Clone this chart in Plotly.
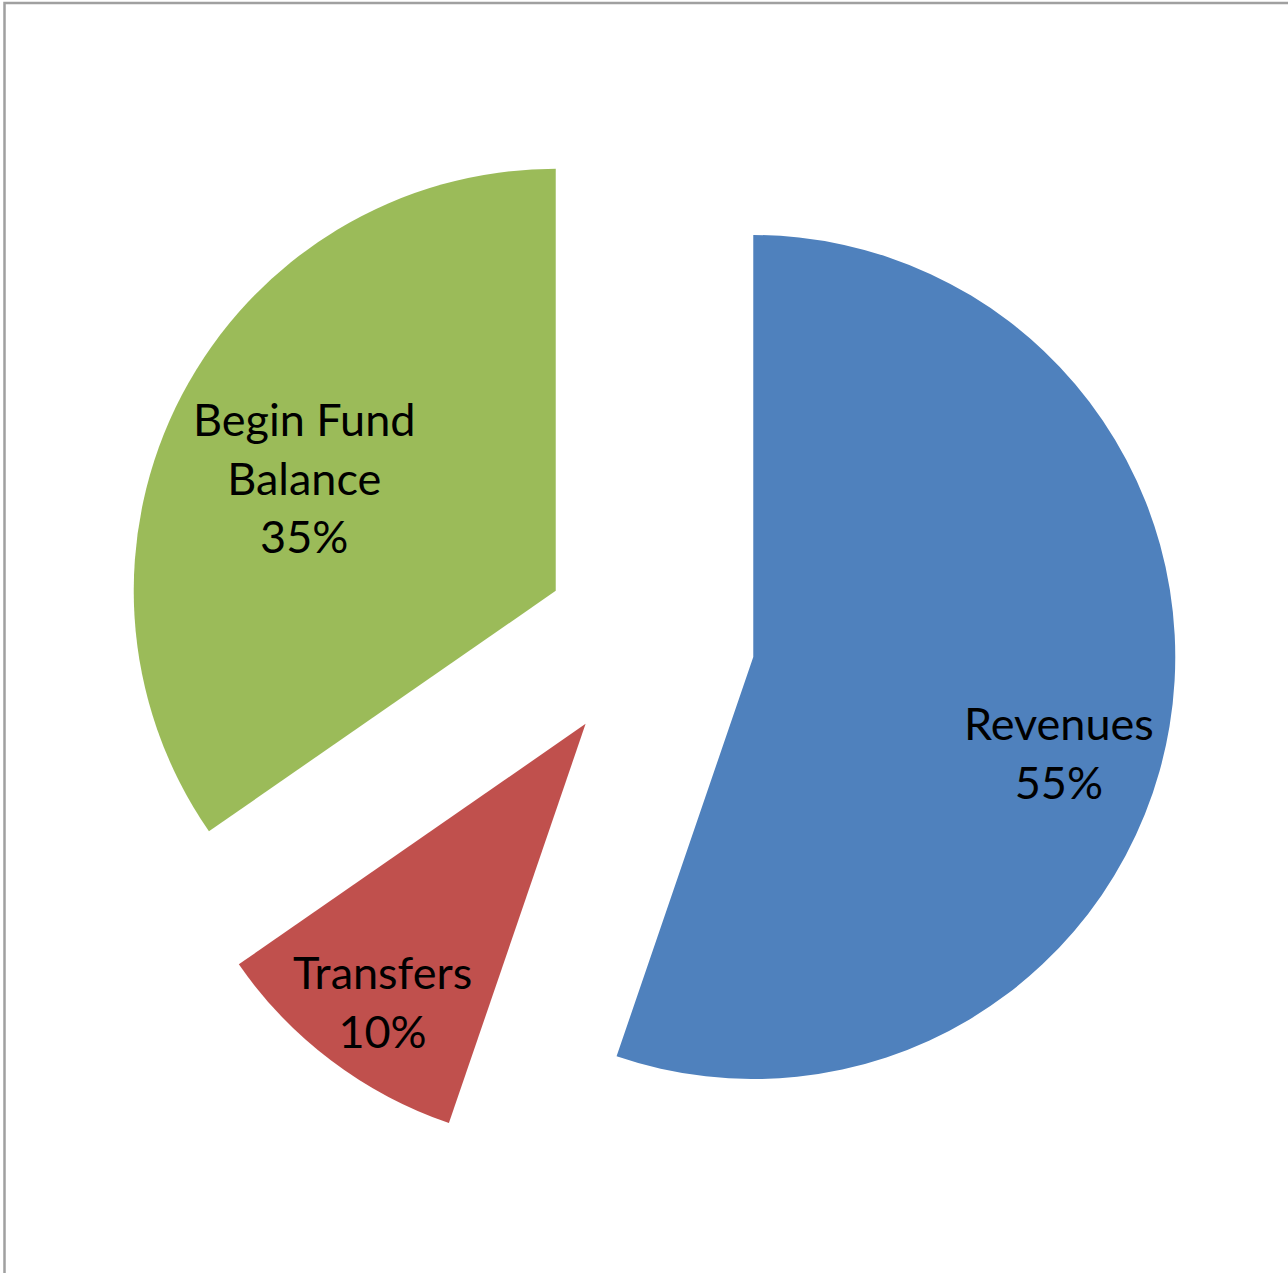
import math
import plotly.graph_objects as go

# Fund sources (shares of the total)
categories = ["Revenues", "Transfers", "Begin Fund Balance"]
label_lines = ["Revenues", "Transfers", "Begin Fund<br>Balance"]
values = [55.25, 10.1, 34.65]
colors = ["#4F81BD", "#C0504D", "#9BBB59"]

W, H = 1288, 1273
PULL = 0.25
DOM_X = [0.09449, 0.91359]
DOM_Y = [0.08311, 0.91186]

# label placement per slice: (fraction of radius from the exploded apex, angle offset in degrees)
label_place = [(0.758, 7.95), (0.815, -0.8), (0.653, -3.25)]

fig = go.Figure(
    go.Pie(
        labels=categories,
        values=values,
        sort=False,
        direction="clockwise",
        rotation=0,
        pull=[PULL] * len(values),
        marker=dict(colors=colors, line=dict(width=0)),
        textinfo="none",
        hoverinfo="label+percent",
        domain=dict(x=DOM_X, y=DOM_Y),
        showlegend=False,
    )
)

# geometry of the pie in pixels, mirroring plotly's own sizing
cx = W * (DOM_X[0] + DOM_X[1]) / 2
cy = H * (1 - (DOM_Y[0] + DOM_Y[1]) / 2)
r = min(W * (DOM_X[1] - DOM_X[0]), H * (DOM_Y[1] - DOM_Y[0])) / (2 + 2 * PULL)

total = sum(values)
cum = 0
annotations = []
for name, v, (frac, off) in zip(label_lines, values, label_place):
    mid = 360 * (cum + v / 2) / total
    cum += v
    t = math.radians(mid)
    ax = cx + PULL * r * math.sin(t)
    ay = cy - PULL * r * math.cos(t)
    t2 = math.radians(mid + off)
    lx = ax + frac * r * math.sin(t2)
    ly = ay - frac * r * math.cos(t2)
    pct = round(100 * v / total)
    annotations.append(
        dict(
            x=lx / W,
            y=1 - ly / H,
            xref="paper",
            yref="paper",
            text=f"{name}<br>{pct}%",
            showarrow=False,
            xanchor="center",
            yanchor="middle",
            align="center",
            font=dict(family="Lato", size=45, color="#000000"),
        )
    )

fig.update_layout(
    width=W,
    height=H,
    margin=dict(l=0, r=0, t=0, b=0),
    paper_bgcolor="white",
    plot_bgcolor="white",
    annotations=annotations,
    shapes=[
        dict(
            type="rect",
            xref="paper",
            yref="paper",
            x0=4.5 / W,
            x1=1.05,
            y0=-0.05,
            y1=1 - 3 / H,
            line=dict(color="#A0A0A0", width=2.5),
            fillcolor="rgba(0,0,0,0)",
            layer="above",
        )
    ],
)

fig.write_html("out.html")
